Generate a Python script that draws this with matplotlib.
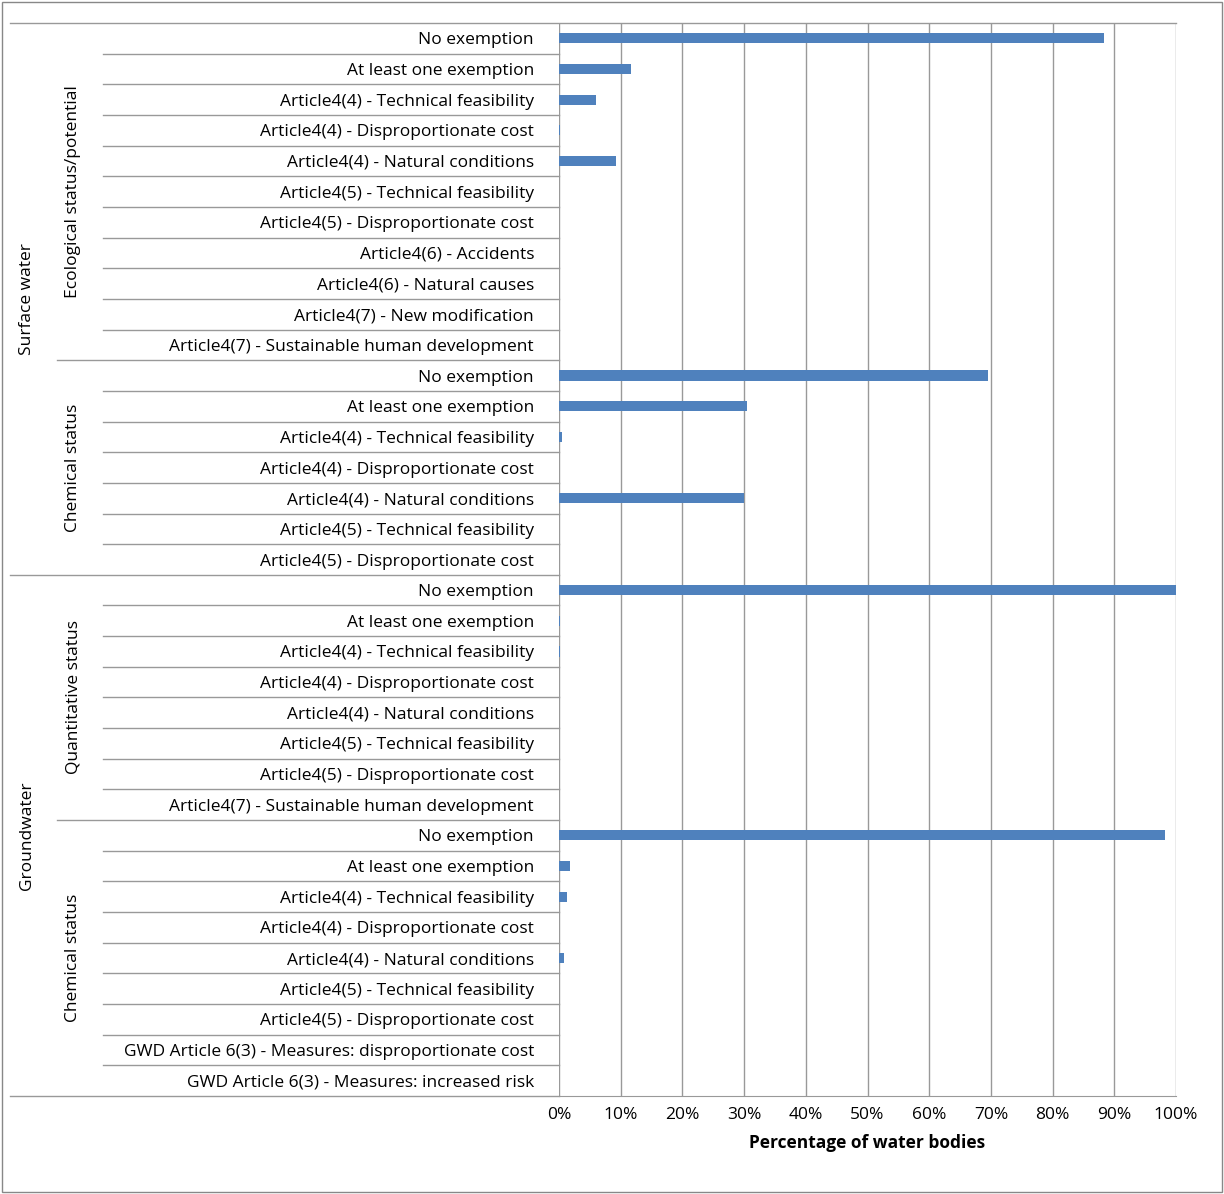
import matplotlib
matplotlib.use("Agg")
import matplotlib.pyplot as plt
from matplotlib.transforms import blended_transform_factory
from matplotlib.patches import Rectangle

plt.rcParams['font.family'] = ['Open Sans', 'DejaVu Sans']

eco_labels = ["No exemption", "At least one exemption", "Article4(4) - Technical feasibility",
              "Article4(4) - Disproportionate cost", "Article4(4) - Natural conditions",
              "Article4(5) - Technical feasibility", "Article4(5) - Disproportionate cost",
              "Article4(6) - Accidents", "Article4(6) - Natural causes",
              "Article4(7) - New modification", "Article4(7) - Sustainable human development"]
eco_values = [88.3, 11.7, 6.0, 0.2, 9.3, 0, 0, 0, 0, 0, 0]
swchem_labels = ["No exemption", "At least one exemption", "Article4(4) - Technical feasibility",
                 "Article4(4) - Disproportionate cost", "Article4(4) - Natural conditions",
                 "Article4(5) - Technical feasibility", "Article4(5) - Disproportionate cost"]
swchem_values = [69.5, 30.5, 0.5, 0, 30.0, 0, 0]
quant_labels = ["No exemption", "At least one exemption", "Article4(4) - Technical feasibility",
                "Article4(4) - Disproportionate cost", "Article4(4) - Natural conditions",
                "Article4(5) - Technical feasibility", "Article4(5) - Disproportionate cost",
                "Article4(7) - Sustainable human development"]
quant_values = [100, 0.2, 0.2, 0, 0, 0, 0, 0]
gwchem_labels = ["No exemption", "At least one exemption", "Article4(4) - Technical feasibility",
                 "Article4(4) - Disproportionate cost", "Article4(4) - Natural conditions",
                 "Article4(5) - Technical feasibility", "Article4(5) - Disproportionate cost",
                 "GWD Article 6(3) - Measures: disproportionate cost",
                 "GWD Article 6(3) - Measures: increased risk"]
gwchem_values = [98.2, 1.8, 1.3, 0, 0.8, 0, 0, 0, 0]

groups = [("Surface water", "Ecological status/potential", eco_labels, eco_values),
          ("Surface water", "Chemical status", swchem_labels, swchem_values),
          ("Groundwater", "Quantitative status", quant_labels, quant_values),
          ("Groundwater", "Chemical status", gwchem_labels, gwchem_values)]

labels, values = [], []
for g in groups:
    labels += g[2]
    values += g[3]
n = len(labels)

fig = plt.figure(figsize=(12.24, 11.94), dpi=100)
fig.patches.append(Rectangle((0.0015, 0.0015), 0.997, 0.997, transform=fig.transFigure,
                             fill=False, edgecolor='#888888', lw=1))
ax = fig.add_axes([559/1224, 1-1096/1194, 617/1224, 1073/1194])
ys = list(range(n))
ax.barh(ys, values, height=0.33, color='#4F81BD', zorder=3)
ax.set_ylim(n-0.5, -0.5)
ax.set_xlim(0, 100)
ax.set_xticks(range(0, 101, 10))
ax.set_xticklabels([f"{v}%" for v in range(0, 101, 10)], fontsize=12.5)
ax.set_yticks(ys)
ax.set_yticklabels(labels, fontsize=12.5)
ax.tick_params(axis='y', length=0, pad=18)
ax.tick_params(axis='x', length=0, pad=8)
ax.xaxis.grid(True, color='#999999', lw=1, zorder=0)
for s in ['top', 'right', 'left']:
    ax.spines[s].set_visible(False)
ax.spines['bottom'].set_color('#999999')
ax.set_xlabel("Percentage of water bodies", fontsize=12.5, fontweight='bold', labelpad=8)

tr = blended_transform_factory(ax.transAxes, ax.transData)
xr = lambda px: (px-559)/617
# separators
start = 0
bounds = []
for i, g in enumerate(groups):
    k = len(g[2])
    for j in range(1, k):
        ax.plot([xr(103), 0], [start+j-0.5]*2, transform=tr, color='#999999', lw=1, clip_on=False)
    bounds.append((start, start+k))
    start += k
ax.plot([xr(10), 1], [-0.5]*2, transform=tr, color='#999999', lw=1, clip_on=False)
ax.plot([xr(10), 0], [n-0.5]*2, transform=tr, color='#999999', lw=1, clip_on=False)
ax.plot([xr(57), 0], [bounds[1][0]-0.5]*2, transform=tr, color='#999999', lw=1, clip_on=False)
ax.plot([xr(10), 0], [bounds[2][0]-0.5]*2, transform=tr, color='#999999', lw=1, clip_on=False)
ax.plot([xr(57), 0], [bounds[3][0]-0.5]*2, transform=tr, color='#999999', lw=1, clip_on=False)
for (a, b), g in zip(bounds, groups):
    ax.text(xr(73), (a+b-1)/2, g[1], transform=tr, rotation=90, ha='center', va='center', fontsize=12.5)
for (a, b), name in [((0, bounds[1][1]), "Surface water"), ((bounds[2][0], n), "Groundwater")]:
    ax.text(xr(27), (a+b-1)/2, name, transform=tr, rotation=90, ha='center', va='center', fontsize=12.5)

fig.savefig("out.png", dpi=100)
